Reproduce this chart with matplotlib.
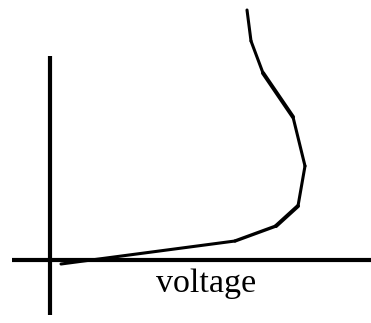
import matplotlib
matplotlib.use("Agg")
import matplotlib.pyplot as plt

# curve points (voltage, current) in pixel units
voltage = [61, 235, 276, 298, 305, 293, 263, 251, 247]
current = [264, 241, 226, 206, 166, 117, 73, 41, 10]
# the hand-drawn strokes are a bit heavier on a couple of segments
seg_width = [2.2, 2.4, 2.9, 2.2, 2.2, 2.9, 2.2, 2.2]

fig = plt.figure(figsize=(3.71, 3.23), dpi=100)
ax = fig.add_axes([0, 0, 1, 1])
ax.set_xlim(0, 371)
ax.set_ylim(323, 0)
ax.axis('off')

# axes drawn by hand
ax.plot([12, 371], [260, 260], color='black', lw=3.0, solid_capstyle='butt')
ax.plot([50, 50], [56, 315], color='black', lw=3.0, solid_capstyle='butt')

for i in range(len(voltage) - 1):
    ax.plot(voltage[i:i + 2], current[i:i + 2], color='black',
            lw=seg_width[i], solid_capstyle='round')

ax.text(206, 292, 'voltage', ha='center', va='baseline',
        fontsize=24.5, family=['Liberation Serif', 'DejaVu Serif'])

plt.savefig('out.png', dpi=100)
